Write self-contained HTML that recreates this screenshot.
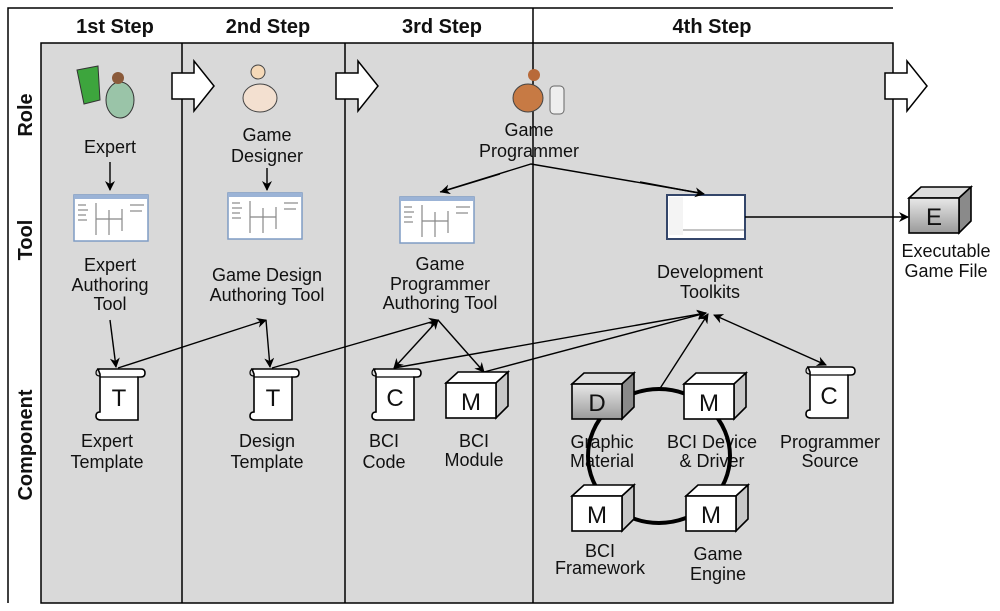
<!DOCTYPE html>
<html><head><style>body{margin:0;background:#fff}svg{display:block}text{font-family:"Liberation Sans",sans-serif;fill:#111}</style></head><body>
<svg width="1000" height="611" viewBox="0 0 1000 611" xmlns="http://www.w3.org/2000/svg">
<defs>
<marker id="a" markerWidth="10" markerHeight="10" refX="9" refY="5" orient="auto" markerUnits="userSpaceOnUse"><path d="M0,0 L10,5 L0,10 L3,5 Z" fill="#000"/></marker>
<marker id="b" markerWidth="10" markerHeight="10" refX="1" refY="5" orient="auto" markerUnits="userSpaceOnUse"><path d="M10,0 L0,5 L10,10 L7,5 Z" fill="#000"/></marker>
<linearGradient id="g" x1="0" y1="0" x2="0" y2="1"><stop offset="0" stop-color="#e8e8e8"/><stop offset="1" stop-color="#9a9a9a"/></linearGradient>
<g id="cube"><path d="M0,11 L12,0 L62,0 L50,11 Z" fill="#fff" stroke="#000" stroke-width="1.6"/><path d="M50,11 L62,0 L62,34 L50,46 Z" fill="#c8c8c8" stroke="#000" stroke-width="1.6"/><rect x="0" y="11" width="50" height="35" fill="#fff" stroke="#000" stroke-width="1.6"/></g>
<g id="scroll"><path d="M5,3 L48,3 Q52,3 52,7 Q52,11 48,11 L45,11 L45,54 L8,54 Q3,54 3,50 Q3,46 7,46 L7,8 Q5,3 5,3 Z" fill="#fff" stroke="#000" stroke-width="1.6"/><path d="M7,3 Q3,3 3,7 Q3,10 7,10" fill="none" stroke="#000" stroke-width="1.2"/><line x1="7" y1="11" x2="45" y2="11" stroke="#000" stroke-width="1.2"/></g>
<g id="shot"><rect x="0" y="0" width="74" height="46" fill="#fff" stroke="#7f9cc4" stroke-width="1.5"/><rect x="0" y="0" width="74" height="4" fill="#9bb3d6"/><g stroke="#888" stroke-width="1.2"><line x1="4" y1="10" x2="12" y2="10"/><line x1="4" y1="15" x2="14" y2="15"/><line x1="4" y1="20" x2="12" y2="20"/><line x1="4" y1="25" x2="13" y2="25"/><line x1="22" y1="8" x2="22" y2="40"/><line x1="35" y1="15" x2="35" y2="40"/><line x1="22" y1="24" x2="48" y2="24"/><line x1="48" y1="14" x2="48" y2="36"/><line x1="56" y1="10" x2="70" y2="10"/><line x1="56" y1="16" x2="68" y2="16"/></g></g>
<g id="arr"><path d="M0,12 L22,12 L22,0 L42,25 L22,50 L22,38 L0,38 Z" fill="#fff" stroke="#000" stroke-width="1.5"/></g>
</defs>
<path d="M8,603 L8,8 L893,8" fill="none" stroke="#000" stroke-width="1.5"/>
<rect x="41" y="43" width="852" height="560" fill="#d9d9d9" stroke="#000" stroke-width="1.5"/>
<line x1="182" y1="43" x2="182" y2="603" stroke="#000" stroke-width="1.5"/>
<line x1="345" y1="43" x2="345" y2="603" stroke="#000" stroke-width="1.5"/>
<line x1="533" y1="8" x2="533" y2="603" stroke="#000" stroke-width="1.5"/>
<g font-size="20" text-anchor="middle"><text x="115" y="33" style="font-weight:bold">1st Step</text><text x="268" y="33" style="font-weight:bold">2nd Step</text><text x="442" y="33" style="font-weight:bold">3rd Step</text><text x="712" y="33" style="font-weight:bold">4th Step</text></g>
<g font-size="20" text-anchor="middle"><text transform="translate(32,115) rotate(-90)" style="font-weight:bold">Role</text><text transform="translate(32,240) rotate(-90)" style="font-weight:bold">Tool</text><text transform="translate(32,445) rotate(-90)" style="font-weight:bold">Component</text></g>
<use href="#arr" x="172" y="61"/><use href="#arr" x="336" y="61"/><use href="#arr" x="885" y="61"/>
<path d="M77,70 L98,66 L100,100 L84,104 Z" fill="#3da53d" stroke="#333"/><ellipse cx="120" cy="100" rx="14" ry="18" fill="#9ac4a8" stroke="#333"/><circle cx="118" cy="78" r="6" fill="#8a5a3a"/>
<circle cx="258" cy="72" r="7" fill="#f5d9b8" stroke="#444"/><ellipse cx="260" cy="98" rx="17" ry="14" fill="#f3e0d0" stroke="#444"/>
<circle cx="534" cy="75" r="6" fill="#b86a3a"/><ellipse cx="528" cy="98" rx="15" ry="14" fill="#c77a44" stroke="#444"/><rect x="550" y="86" width="14" height="28" rx="4" fill="#eee" stroke="#666"/>
<g font-size="18" text-anchor="middle">
<text x="110" y="153">Expert</text>
<text x="267" y="141">Game</text><text x="267" y="162">Designer</text>
<text x="529" y="136">Game</text><text x="529" y="157">Programmer</text>
<text x="110" y="271">Expert</text><text x="110" y="291">Authoring</text><text x="110" y="310">Tool</text>
<text x="267" y="281">Game Design</text><text x="267" y="301">Authoring Tool</text>
<text x="440" y="270">Game</text><text x="440" y="290">Programmer</text><text x="440" y="309">Authoring Tool</text>
<text x="710" y="278">Development</text><text x="710" y="298">Toolkits</text>
<text x="946" y="257">Executable</text><text x="946" y="277">Game File</text>
<text x="107" y="447">Expert</text><text x="107" y="468">Template</text>
<text x="267" y="447">Design</text><text x="267" y="468">Template</text>
<text x="384" y="447">BCI</text><text x="384" y="468">Code</text>
<text x="474" y="447">BCI</text><text x="474" y="466">Module</text>
<text x="602" y="448">Graphic</text><text x="602" y="467">Material</text>
<text x="712" y="448">BCI Device</text><text x="712" y="467">&amp; Driver</text>
<text x="830" y="448">Programmer</text><text x="830" y="467">Source</text>
<text x="600" y="557">BCI</text><text x="600" y="574">Framework</text>
<text x="718" y="560">Game</text><text x="718" y="580">Engine</text>
</g>
<use href="#shot" x="74" y="195"/><use href="#shot" x="228" y="193"/><use href="#shot" x="400" y="197"/>
<rect x="667" y="195" width="78" height="44" fill="#fff" stroke="#34466a" stroke-width="2"/><rect x="669" y="197" width="14" height="38" fill="#f4f4f4"/><line x1="683" y1="230" x2="744" y2="230" stroke="#888"/>
<ellipse cx="659" cy="456" rx="71" ry="67" fill="none" stroke="#000" stroke-width="4"/>
<g stroke="#000" stroke-width="1.4" fill="none">
<line x1="110" y1="162" x2="110" y2="190" marker-end="url(#a)"/>
<line x1="267" y1="168" x2="267" y2="190" marker-end="url(#a)"/>
<polyline points="440,192 531,164 700,193" fill="none"/>
<line x1="500" y1="174" x2="441" y2="192" marker-end="url(#a)"/>
<line x1="640" y1="182" x2="704" y2="194" marker-end="url(#a)"/>
<line x1="745" y1="217" x2="908" y2="217" marker-end="url(#a)"/>
<line x1="110" y1="320" x2="116" y2="367" marker-end="url(#a)"/>
<line x1="118" y1="368" x2="266" y2="320" marker-end="url(#a)"/>
<line x1="266" y1="320" x2="270" y2="367" marker-end="url(#a)"/>
<line x1="272" y1="368" x2="438" y2="320" marker-end="url(#a)"/>
<line x1="438" y1="320" x2="394" y2="368" marker-end="url(#a)" marker-start="url(#b)"/>
<line x1="438" y1="320" x2="484" y2="372" marker-end="url(#a)"/>
<line x1="394" y1="368" x2="706" y2="313" marker-end="url(#a)"/>
<line x1="484" y1="372" x2="706" y2="313" marker-end="url(#a)"/>
<line x1="659" y1="390" x2="708" y2="314" marker-end="url(#a)"/>
<line x1="826" y1="365" x2="714" y2="315" marker-end="url(#a)" marker-start="url(#b)"/>
</g>
<use href="#scroll" x="93" y="366"/><use href="#scroll" x="247" y="366"/><use href="#scroll" x="369" y="366"/><use href="#scroll" x="803" y="364"/>
<use href="#cube" x="446" y="372"/><use href="#cube" x="684" y="373"/><use href="#cube" x="572" y="485"/><use href="#cube" x="686" y="485"/>
<g transform="translate(572,373)"><path d="M0,11 L12,0 L62,0 L50,11 Z" fill="#ddd" stroke="#000" stroke-width="1.6"/><path d="M50,11 L62,0 L62,34 L50,46 Z" fill="#8a8a8a" stroke="#000" stroke-width="1.6"/><rect x="0" y="11" width="50" height="35" fill="url(#g)" stroke="#000" stroke-width="1.6"/></g>
<g transform="translate(909,187)"><path d="M0,11 L12,0 L62,0 L50,11 Z" fill="#ddd" stroke="#000" stroke-width="1.6"/><path d="M50,11 L62,0 L62,34 L50,46 Z" fill="#8a8a8a" stroke="#000" stroke-width="1.6"/><rect x="0" y="11" width="50" height="35" fill="url(#g)" stroke="#000" stroke-width="1.6"/></g>
<g font-size="24" text-anchor="middle">
<text x="119" y="406">T</text><text x="273" y="406">T</text><text x="395" y="406">C</text><text x="829" y="404">C</text>
<text x="471" y="410">M</text><text x="597" y="411">D</text><text x="709" y="411">M</text><text x="597" y="523">M</text><text x="711" y="523">M</text><text x="934" y="225">E</text>
</g>
</svg>
</body></html>
